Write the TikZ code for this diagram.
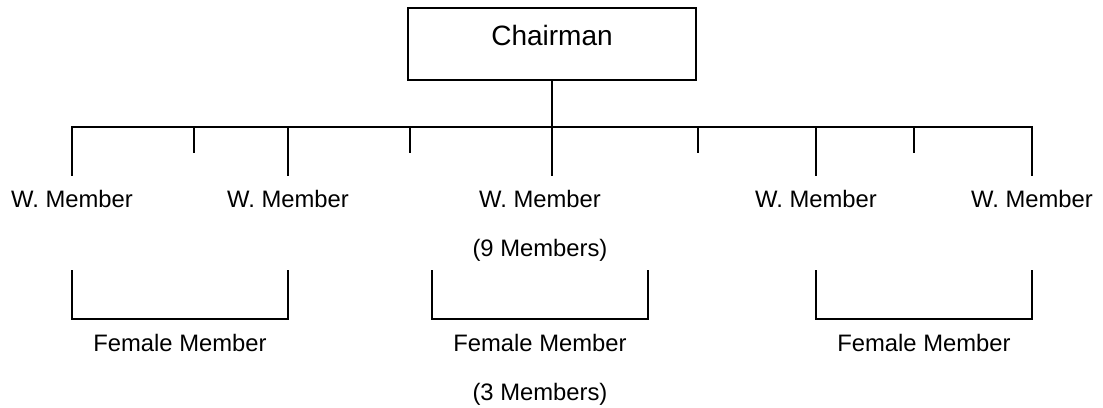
\documentclass[tikz,border=0pt]{standalone}
\usepackage{fontspec}
\setmainfont{Liberation Sans}
\begin{document}
\begin{tikzpicture}[x=1pt, y=-1pt,
  every node/.style={font=\fontsize{23.8}{28}\selectfont, inner sep=0pt},
  lbl/.style={anchor=base},
  wire/.style={line width=1.6pt, line cap=rect},
  headbox/.style={draw, line width=1.6pt, text width=288pt, align=center,
    font=\fontsize{28}{32}\selectfont, text height=38pt, text depth=34pt}]
\useasboundingbox (0,0) rectangle (1103,407);

% head of the committee
\node[headbox, anchor=north] (chair) at (552,7) {Chairman};

% bus line and its junctions
\foreach \n/\x in {b1/72, s1/194, b2/288, s2/410, b3/552, s3/698, b4/816, s4/914, b5/1032}
  \coordinate (\n) at (\x,127);
\draw[wire] (chair.south) -- (b3);
\draw[wire] (b1) -- (b5);

% short ticks
\foreach \n in {s1,s2,s3,s4}
  \draw[wire] (\n) -- ++(0,25) coordinate (\n e);

% ward members
\node[lbl] (w1) at (72,207.5) {W. Member};
\node[lbl] (w2) at (288,207.5) {W. Member};
\node[lbl] (w3) at (540,207.5) {W. Member};
\node[lbl] (w4) at (816,207.5) {W. Member};
\node[lbl] (w5) at (1032,207.5) {W. Member};
\node[lbl] (nine) at (540,256.5) {(9 Members)};

\foreach \n in {1,...,5}
  \draw[wire] (b\n) -- (b\n |- 0,175) coordinate (t\n);

% female member brackets
\coordinate (fa1) at (72,271);  \coordinate (fa2) at (288,271);
\coordinate (fb1) at (432,271); \coordinate (fb2) at (648,271);
\coordinate (fc1) at (816,271); \coordinate (fc2) at (1032,271);
\foreach \p in {fa,fb,fc}
  \draw[wire] (\p1) -- ++(0,48) -| (\p2);

\node[lbl] (f1) at (180,351.5) {Female Member};
\node[lbl] (f2) at (540,351.5) {Female Member};
\node[lbl] (f3) at (924,351.5) {Female Member};
\node[lbl] (three) at (540,400.5) {(3 Members)};
\end{tikzpicture}
\end{document}
